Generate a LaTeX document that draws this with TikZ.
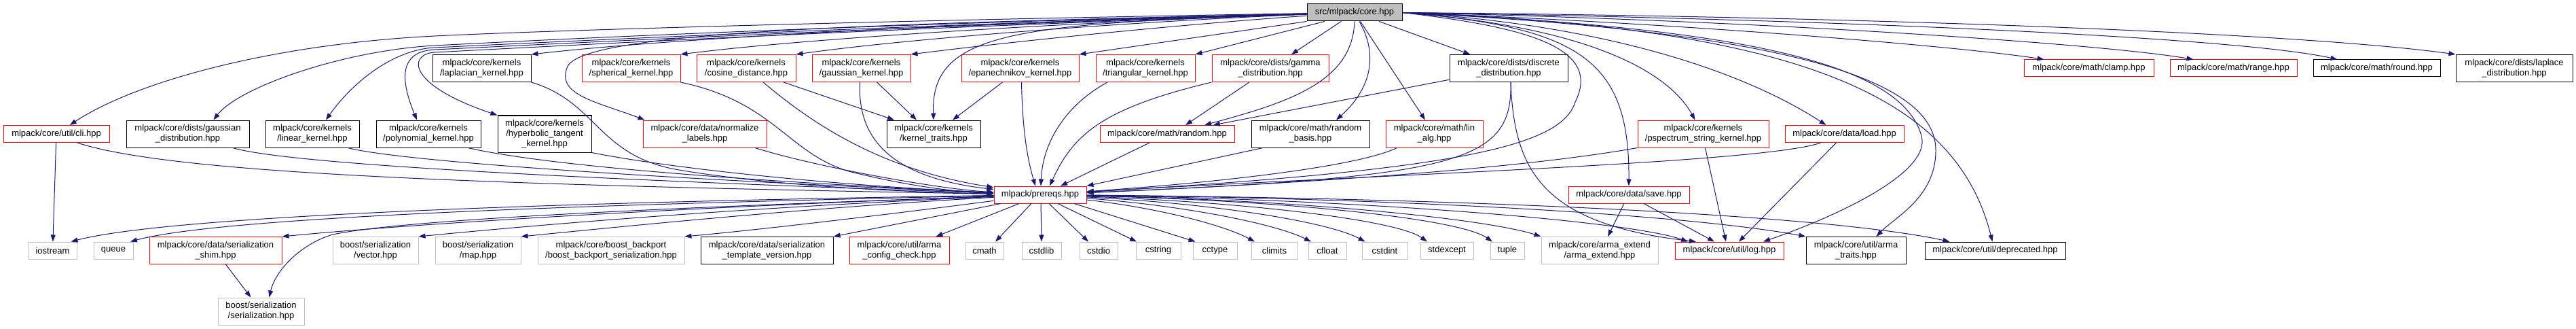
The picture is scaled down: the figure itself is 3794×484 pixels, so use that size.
\documentclass[tikz,border=0pt]{standalone}
\usepackage{fontspec}
\setmainfont{Liberation Sans}
\usetikzlibrary{arrows.meta}
\definecolor{edgeblue}{RGB}{25,25,112}
\definecolor{boxgray}{RGB}{191,191,191}
\newcommand{\doxfont}{\fontsize{13}{15}\selectfont}

\begin{document}
\begin{tikzpicture}[x=1pt, y=-1pt, >={Triangle[length=10pt, width=7pt]},
  every node/.style={font=\doxfont},
  hdr/.style={draw, rectangle, inner sep=0pt, align=center, line width=1pt},
  redhdr/.style={hdr, draw=red},
  blackhdr/.style={hdr, draw=black},
  syshdr/.style={hdr, draw=boxgray},
  roothdr/.style={hdr, draw=black, fill=boxgray},
  oneline/.style={minimum height=25pt},
  twoline/.style={minimum height=40pt},
  inc/.style={->, draw=edgeblue, line width=1pt}]
  \useasboundingbox (0,0) rectangle (3794,484);

  \node[roothdr, oneline, minimum width=140pt] (core) at (1995,18.5) {src/mlpack/core.hpp};

  % first row
  \node[blackhdr, twoline, minimum width=145pt] (laplacian) at (709.5,100.5) {mlpack/core/kernels\\/laplacian\_kernel.hpp};
  \node[redhdr, twoline, minimum width=145pt] (spherical) at (929.5,100.5) {mlpack/core/kernels\\/spherical\_kernel.hpp};
  \node[redhdr, twoline, minimum width=146pt] (cosine) at (1099,100.5) {mlpack/core/kernels\\/cosine\_distance.hpp};
  \node[redhdr, twoline, minimum width=145pt] (gaussiank) at (1268.5,100.5) {mlpack/core/kernels\\/gaussian\_kernel.hpp};
  \node[redhdr, twoline, minimum width=173pt] (epan) at (1502.5,100.5) {mlpack/core/kernels\\/epanechnikov\_kernel.hpp};
  \node[redhdr, twoline, minimum width=146pt] (triang) at (1687,100.5) {mlpack/core/kernels\\/triangular\_kernel.hpp};
  \node[redhdr, twoline, minimum width=172pt] (gamma) at (1871,100.5) {mlpack/core/dists/gamma\\\_distribution.hpp};
  \node[blackhdr, twoline, minimum width=174pt] (discrete) at (2222,100.5) {mlpack/core/dists/discrete\\\_distribution.hpp};
  \node[redhdr, oneline, minimum width=191pt] (clamp) at (3076.5,100.5) {mlpack/core/math/clamp.hpp};
  \node[redhdr, oneline, minimum width=187pt] (range) at (3289.5,100.5) {mlpack/core/math/range.hpp};
  \node[blackhdr, oneline, minimum width=187pt] (round) at (3500.5,100.5) {mlpack/core/math/round.hpp};
  \node[blackhdr, twoline, minimum width=172pt] (laplace) at (3703,100.5) {mlpack/core/dists/laplace\\\_distribution.hpp};

  % second row
  \node[redhdr, oneline, minimum width=156pt] (cli) at (83,197) {mlpack/core/util/cli.hpp};
  \node[blackhdr, twoline, minimum width=181pt] (gaussd) at (276.5,197) {mlpack/core/dists/gaussian\\\_distribution.hpp};
  \node[blackhdr, twoline, minimum width=138pt] (linear) at (460,197) {mlpack/core/kernels\\/linear\_kernel.hpp};
  \node[blackhdr, twoline, minimum width=154pt] (polynomial) at (631,197) {mlpack/core/kernels\\/polynomial\_kernel.hpp};
  \node[blackhdr, minimum height=54pt, minimum width=138pt] (hyperbolic) at (802,197) {mlpack/core/kernels\\/hyperbolic\_tangent\\\_kernel.hpp};
  \node[redhdr, twoline, minimum width=182pt] (normalize) at (1038,197) {mlpack/core/data/normalize\\\_labels.hpp};
  \node[blackhdr, twoline, minimum width=138pt] (ktraits) at (1375,197) {mlpack/core/kernels\\/kernel\_traits.hpp};
  \node[redhdr, oneline, minimum width=198pt] (random) at (1719,197) {mlpack/core/math/random.hpp};
  \node[blackhdr, twoline, minimum width=174pt] (rbasis) at (1930,197) {mlpack/core/math/random\\\_basis.hpp};
  \node[redhdr, twoline, minimum width=143pt] (linalg) at (2112.5,197) {mlpack/core/math/lin\\\_alg.hpp};
  \node[redhdr, twoline, minimum width=193pt] (pspectrum) at (2508.5,197) {mlpack/core/kernels\\/pspectrum\_string\_kernel.hpp};
  \node[redhdr, oneline, minimum width=175pt] (load) at (2716.5,197) {mlpack/core/data/load.hpp};

  \node[redhdr, oneline, minimum width=136pt] (prereqs) at (1532,286.5) {mlpack/prereqs.hpp};
  \node[redhdr, oneline, minimum width=178pt] (save) at (2399,286.5) {mlpack/core/data/save.hpp};

  % bottom rows
  \foreach \n/\x/\w in {iostream/77.5/71, queue/167/58, cmath/1450/56, cstdlib/1534/58, cstdio/1618/56, cstring/1706/66,
      cctype/1789.5/65, climits/1877/68, cfloat/1955/56, cstdint/2039.5/67, stdexcept/2131/78, tuple/2220/50}
    \node[syshdr, oneline, minimum width=\w pt] (\n) at (\x,368.5) {\n};
  \node[redhdr, twoline, minimum width=195pt] (shim) at (317.5,368.5) {mlpack/core/data/serialization\\\_shim.hpp};
  \node[syshdr, twoline, minimum width=126pt] (vector) at (553,368.5) {boost/serialization\\/vector.hpp};
  \node[syshdr, twoline, minimum width=126pt] (map) at (704,368.5) {boost/serialization\\/map.hpp};
  \node[syshdr, twoline, minimum width=216pt] (backport) at (900,368.5) {mlpack/core/boost\_backport\\/boost\_backport\_serialization.hpp};
  \node[blackhdr, twoline, minimum width=195pt] (tmplver) at (1129.5,368.5) {mlpack/core/data/serialization\\\_template\_version.hpp};
  \node[redhdr, twoline, minimum width=147pt] (armacfg) at (1324.5,368.5) {mlpack/core/util/arma\\\_config\_check.hpp};
  \node[syshdr, twoline, minimum width=172pt] (armaext) at (2356,368.5) {mlpack/core/arma\_extend\\/arma\_extend.hpp};
  \node[redhdr, oneline, minimum width=160pt] (log) at (2547,368.5) {mlpack/core/util/log.hpp};
  \node[blackhdr, twoline, minimum width=147pt] (armatraits) at (2733.5,368.5) {mlpack/core/util/arma\\\_traits.hpp};
  \node[blackhdr, oneline, minimum width=207pt] (deprecated) at (2938.5,368.5) {mlpack/core/util/deprecated.hpp};
  \node[syshdr, twoline, minimum width=127pt] (serial) at (384.5,458) {boost/serialization\\/serialization.hpp};

  % from core.hpp
  \draw[inc] (core) .. controls (1300,30) and (800,45) .. (640,53) .. controls (400,65) and (200,120) .. (cli);
  \draw[inc] (core) .. controls (1300,35) and (850,56) .. (640,67) .. controls (500,75) and (350,130) .. ([xshift=38pt]gaussd.north);
  \draw[inc] (core) .. controls (1300,38) and (850,60) .. (640,70) .. controls (580,73) and (520,120) .. ([xshift=20pt]linear.north);
  \draw[inc] (core) .. controls (1300,40) and (850,63) .. (640,73) .. controls (580,76) and (595,130) .. ([xshift=-17pt]polynomial.north);
  \draw[inc] (core) .. controls (1300,42) and (850,66) .. (640,77) .. controls (600,80) and (600,125) .. (hyperbolic.north west);
  \draw[inc] (core) .. controls (1500,30) and (1000,55) .. (laplacian.north east);
  \draw[inc] (core) .. controls (1300,35) and (850,45) .. (835,100) .. controls (820,140) and (880,150) .. ([xshift=3pt]normalize.north west);
  \draw[inc] (core) .. controls (1600,32) and (1200,55) .. (spherical.north east);
  \draw[inc] (core) .. controls (1700,30) and (1350,55) .. (cosine.north east);
  \draw[inc] (core) .. controls (1750,35) and (1500,60) .. (gaussiank.north east);
  \draw[inc] (core) .. controls (1500,35) and (1370,45) .. (ktraits.north);
  \draw[inc] (core.south west) -- (epan.north east);
  \draw[inc] ([xshift=-44pt]core.south) -- (triang.north east);
  \draw[inc] (core) -- (gamma);
  \draw[inc] (core.south) .. controls (1992,120) and (1900,150) .. ([xshift=55pt]random.north);
  \draw[inc] ([xshift=7pt]core.south) .. controls (2030,80) and (2020,130) .. ([xshift=38pt]rbasis.north);
  \draw[inc] (core) -- (linalg);
  \draw[inc] (core) -- (discrete);
  \draw[inc] (core.east) .. controls (2250,40) and (2360,70) .. (2320,150) .. controls (2300,215) and (2150,250) .. (prereqs);
  \draw[inc] (core.east) .. controls (2330,40) and (2400,90) .. (save.north);
  \draw[inc] (core.east) .. controls (2350,40) and (2460,110) .. ([xshift=-12pt]pspectrum.north);
  \draw[inc] (core.east) .. controls (2350,35) and (2560,100) .. ([xshift=-27pt]load.north);
  \draw[inc] (core.east) .. controls (2550,40) and (2800,90) .. (2830,200) .. controls (2845,255) and (2700,320) .. ([xshift=50pt]log.north);
  \draw[inc] (core.east) .. controls (2600,45) and (2850,110) .. (2851,220) .. controls (2852,290) and (2790,320) .. ([xshift=30pt]armatraits.north);
  \draw[inc] (core.east) .. controls (2650,40) and (2880,140) .. ([xshift=-4pt]deprecated.north);
  \draw[inc] (core.east) .. controls (2500,35) and (2900,70) .. ([xshift=-66pt]clamp.north);
  \draw[inc] (core.east) .. controls (2600,30) and (3100,65) .. ([xshift=-59pt]range.north);
  \draw[inc] (core.east) .. controls (2700,28) and (3300,55) .. ([xshift=-58pt]round.north);
  \draw[inc] (core.east) .. controls (2800,25) and (3400,50) .. (laplace.north west);

  % into prereqs.hpp and the rest
  \draw[inc] (cli) -- (iostream);
  \draw[inc] ([xshift=31pt]cli.south) .. controls (250,255) and (700,272) .. (prereqs);
  \draw[inc] ([xshift=66pt]gaussd.south) .. controls (420,240) and (800,262) .. (prereqs);
  \draw[inc] ([xshift=52pt]linear.south) .. controls (580,235) and (900,260) .. (prereqs);
  \draw[inc] ([xshift=58pt]polynomial.south) .. controls (780,238) and (1000,262) .. (prereqs);
  \draw[inc] (hyperbolic.south east) .. controls (1000,250) and (1250,274) .. (prereqs);
  \draw[inc] (laplacian.south east) .. controls (880,150) and (880,230) .. (1000,250) .. controls (1150,275) and (1350,283) .. (prereqs);
  \draw[inc] (spherical.south east) .. controls (1140,150) and (1160,225) .. (1250,252) .. controls (1330,272) and (1400,282) .. (prereqs);
  \draw[inc] ([xshift=74pt]normalize.south) .. controls (1200,245) and (1380,278) .. (prereqs);
  \draw[inc] ([xshift=25pt]cosine.south) .. controls (1200,185) and (1300,250) .. (prereqs);
  \draw[inc] ([xshift=55pt]cosine.south) -- ([xshift=-58pt]ktraits.north);
  \draw[inc] ([xshift=-2pt]gaussiank.south) .. controls (1262,210) and (1320,262) .. (prereqs);
  \draw[inc] ([xshift=23pt]gaussiank.south) -- ([xshift=-25pt]ktraits.north);
  \draw[inc] ([xshift=-26pt]epan.south) -- ([xshift=28pt]ktraits.north);
  \draw[inc] ([xshift=2pt]epan.south) .. controls (1506,200) and (1515,240) .. ([xshift=-7pt]prereqs.north);
  \draw[inc] ([xshift=-56pt]triang.south) .. controls (1560,160) and (1535,220) .. ([xshift=1pt]prereqs.north);
  \draw[inc] (gamma.south west) .. controls (1620,160) and (1580,200) .. ([xshift=14pt]prereqs.north);
  \draw[inc] ([xshift=-31pt]gamma.south) -- ([xshift=27pt]random.north);
  \draw[inc] (discrete) -- (random);
  \draw[inc] ([xshift=3pt]discrete.south) .. controls (2228,240) and (2150,260) .. (prereqs);
  \draw[inc] ([xshift=3pt]discrete.south) .. controls (2230,250) and (2270,330) .. ([xshift=-49pt]log.north);
  \draw[inc] ([xshift=-26pt]random.south) -- ([xshift=30pt]prereqs.north);
  \draw[inc] ([xshift=-70pt]rbasis.south) -- (prereqs.north east);
  \draw[inc] ([xshift=-55pt]linalg.south) .. controls (2000,245) and (1800,268) .. (prereqs);
  \draw[inc] (pspectrum.south west) .. controls (2200,255) and (1800,275) .. (prereqs);
  \draw[inc] ([xshift=3pt]pspectrum.south) -- ([xshift=-5pt]log.north);
  \draw[inc] ([xshift=-35pt]load.south) .. controls (2600,240) and (2000,258) .. (prereqs);
  \draw[inc] ([xshift=-12pt]load.south) -- ([xshift=14pt]log.north);
  \draw[inc] ([xshift=-7pt]save.south) -- ([xshift=12pt]armaext.north);
  \draw[inc] ([xshift=22pt]save.south) -- ([xshift=-22pt]log.north);
  \draw[inc] ([xshift=15pt]shim.south) -- ([xshift=-15pt]serial.north);

  % from prereqs.hpp
  \draw[inc] (prereqs) .. controls (900,296) and (260,315) .. ([xshift=27pt]iostream.north);
  \draw[inc] (prereqs) .. controls (900,300) and (330,318) .. ([xshift=25pt]queue.north);
  \draw[inc] (prereqs) .. controls (1000,305) and (600,330) .. (shim.north east);
  \draw[inc] (prereqs) .. controls (1000,305) and (600,322) .. (490,345) .. controls (440,360) and (405,400) .. ([xshift=12pt]serial.north);
  \draw[inc] (prereqs) .. controls (1100,305) and (800,330) .. (vector.north east);
  \draw[inc] (prereqs) .. controls (1200,305) and (950,330) .. (map.north east);
  \draw[inc] (prereqs) .. controls (1350,310) and (1150,335) .. (backport.north east);
  \draw[inc] ([xshift=-58pt]prereqs.south) -- (tmplver.north east);
  \draw[inc] ([xshift=-31pt]prereqs.south) -- ([xshift=54pt]armacfg.north);
  \foreach \n/\s/\e in {cmath/-13/16, cstdlib/1/0, cstdio/13/-15, cstring/26/-32, cctype/50/-29}
    \draw[inc] ([xshift=\s pt]prereqs.south) -- ([xshift=\e pt]\n.north);
  \draw[inc] (prereqs) .. controls (1700,305) and (1800,330) .. ([xshift=-29pt]climits.north);
  \draw[inc] (prereqs) .. controls (1750,303) and (1880,330) .. ([xshift=-24pt]cfloat.north);
  \draw[inc] (prereqs) .. controls (1800,300) and (1960,328) .. ([xshift=-29pt]cstdint.north);
  \draw[inc] (prereqs) .. controls (1850,298) and (2060,325) .. ([xshift=-29pt]stdexcept.north);
  \draw[inc] (prereqs) .. controls (1900,295) and (2150,322) .. ([xshift=-22pt]tuple.north);
  \draw[inc] (prereqs) .. controls (1950,295) and (2200,325) .. (armaext.north west);
  \draw[inc] (prereqs) .. controls (2000,293) and (2400,325) .. ([xshift=-61pt]log.north);
  \draw[inc] (prereqs) .. controls (2100,292) and (2500,318) .. (armatraits.north west);
  \draw[inc] (prereqs) .. controls (2200,292) and (2700,318) .. ([xshift=-67pt]deprecated.north);
\end{tikzpicture}
\end{document}
